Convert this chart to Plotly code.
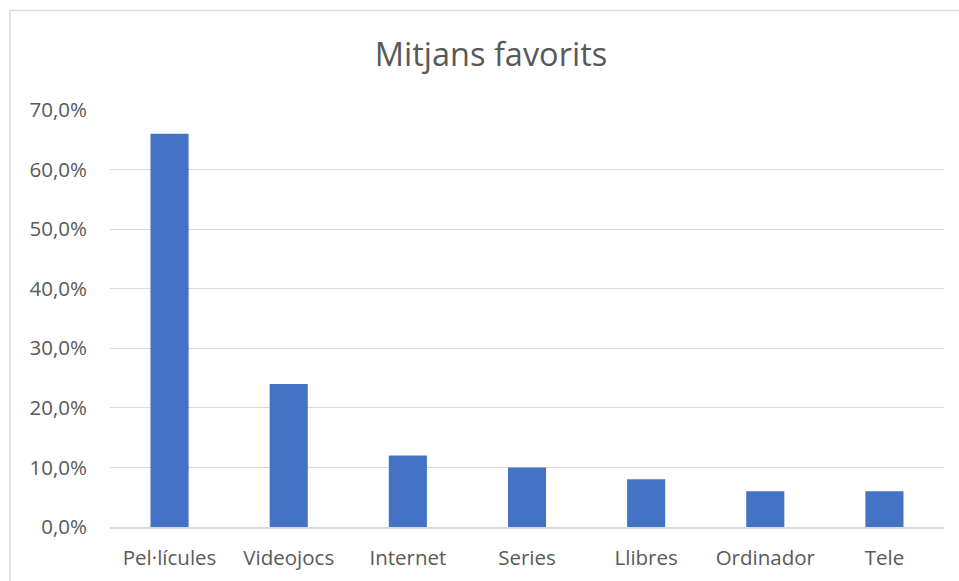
import plotly.graph_objects as go

categories = ["Pel·lícules", "Videojocs", "Internet", "Series", "Llibres", "Ordinador", "Tele"]
values = [0.66, 0.24, 0.12, 0.10, 0.08, 0.06, 0.06]
title_text = "Mitjans favorits"

W, H = 959, 581
L, R, T, B = 110, 15, 110, 54
pw, ph = W - L - R, H - T - B

fig = go.Figure(go.Bar(x=categories, y=values, marker_color="#4472C4", marker_line_width=0))

font_family = "Open Sans"
fig.update_layout(
    width=W, height=H,
    margin=dict(l=L, r=R, t=T, b=B, autoexpand=False),
    paper_bgcolor="white", plot_bgcolor="white",
    separators=", ",
    bargap=0.68,
    showlegend=False,
    font=dict(family=font_family, color="#595959", size=20),
    title=dict(text=title_text, x=491 / W, xanchor="center", y=1 - 55 / H, yanchor="middle",
               xref="container", yref="container",
               font=dict(family=font_family, size=32.5, color="#595959")),
    xaxis=dict(showgrid=False, showline=True, linecolor="#d9d9d9", linewidth=1.5,
               automargin=False,
               ticks="", ticklabelstandoff=12, tickfont=dict(size=20.5)),
    yaxis=dict(range=[0, 0.7], dtick=0.1, tickformat=".1%", showgrid=True,
               automargin=False,
               gridcolor="#d9d9d9", gridwidth=1, zeroline=False, showline=False,
               ticks="", ticklabelstandoff=22, tickfont=dict(size=20.5)),
    shapes=[dict(type="rect", xref="paper", yref="paper",
                 x0=(10 - L) / pw, x1=1.2, y0=-0.3, y1=(H - B - 10.5) / ph,
                 line=dict(color="#d9d9d9", width=1.5), fillcolor="rgba(0,0,0,0)", layer="below")],
)

fig.write_html("out.html")
